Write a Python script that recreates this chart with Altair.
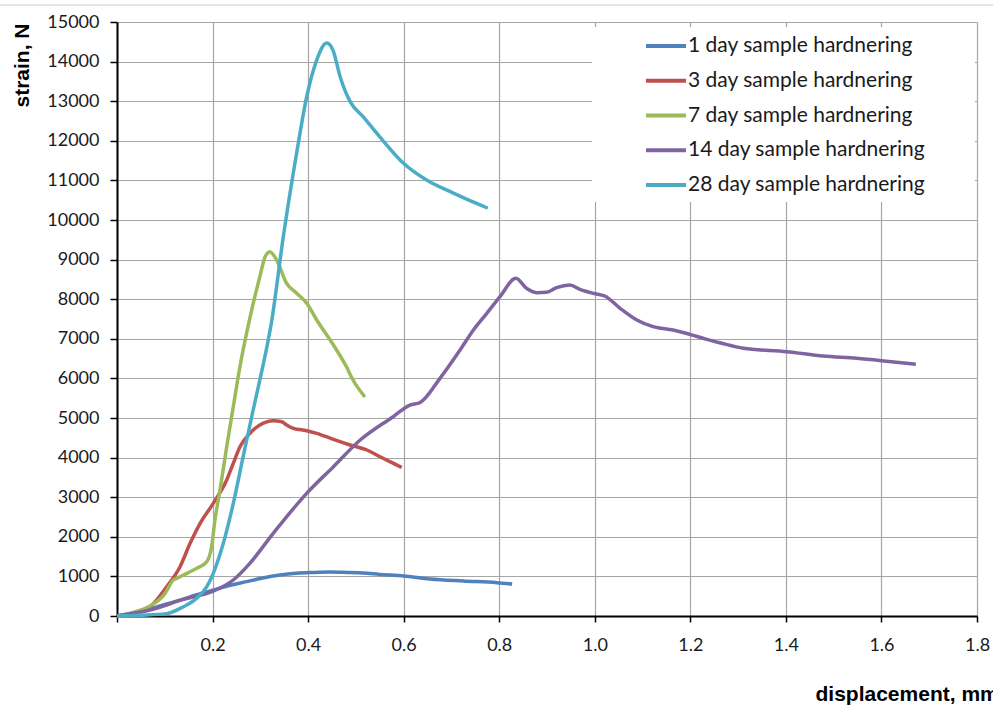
import altair as alt
import pandas as pd

series_names = ["1 day sample hardnering", "3 day sample hardnering", "7 day sample hardnering",
                "14 day sample hardnering", "28 day sample hardnering"]
series_colors = ["#4F81BD", "#C0504D", "#9BBB59", "#8064A2", "#4BACC6"]

d1_x = [0, 0.03, 0.062, 0.1, 0.132, 0.165, 0.2, 0.235, 0.271, 0.305, 0.341, 0.375, 0.411, 0.445,
        0.481, 0.515, 0.55, 0.6, 0.655, 0.725, 0.795, 0.827]
d1_y = [0, 50, 150, 290, 400, 530, 650, 770, 867, 960, 1035, 1080, 1100, 1110,
        1100, 1085, 1050, 1010, 935, 884, 842, 808]

d3_x = [0, 0.03, 0.069, 0.104, 0.132, 0.153, 0.174, 0.2015, 0.2296, 0.2434, 0.2574, 0.278, 0.299,
        0.327, 0.345, 0.355, 0.369, 0.397, 0.418, 0.453, 0.488, 0.523, 0.5435, 0.571, 0.596]
d3_y = [0, 70, 235, 740, 1245, 1835, 2340, 2845, 3434, 3855, 4275, 4613, 4823,
        4932, 4907, 4823, 4739, 4680, 4613, 4461, 4318, 4192, 4066, 3897, 3754]

d7_x = [0, 0.03, 0.069, 0.1, 0.118, 0.125, 0.146, 0.167, 0.188, 0.198, 0.205, 0.2156, 0.2296,
        0.2434, 0.2574, 0.282, 0.299, 0.31, 0.32, 0.334, 0.355, 0.376, 0.397, 0.418, 0.45,
        0.48, 0.494, 0.519]
d7_y = [0, 80, 250, 560, 909, 950, 1077, 1204, 1372, 1750, 2424, 3182, 4275,
        5285, 6300, 7730, 8570, 9073, 9200, 8990, 8400, 8150, 7900, 7475, 6900,
        6300, 5960, 5530]

d14_x = [0, 0.069, 0.139, 0.2, 0.2434, 0.278, 0.327, 0.397, 0.453, 0.509, 0.578, 0.613, 0.634,
         0.676, 0.718, 0.746, 0.774, 0.8016, 0.835, 0.857, 0.878, 0.899, 0.92, 0.948, 0.969,
         0.997, 1.021, 1.053, 1.088, 1.122, 1.164, 1.199, 1.234, 1.262, 1.311, 1.402, 1.478,
         1.548, 1.6, 1.672]
d14_y = [0, 150, 420, 620, 909, 1330, 2088, 3098, 3771, 4444, 5033, 5328, 5387,
         6002, 6717, 7222, 7643, 8064, 8528, 8275, 8165, 8173, 8291, 8359, 8250,
         8148, 8081, 7770, 7475, 7306, 7222, 7113, 6987, 6900, 6760, 6675, 6566,
         6507, 6448, 6355]

d28_x = [0, 0.05, 0.104, 0.139, 0.167, 0.188, 0.2015, 0.2225, 0.2434, 0.264, 0.285, 0.299, 0.324,
         0.348, 0.376, 0.397, 0.418, 0.439, 0.452, 0.467, 0.488, 0.515, 0.55, 0.599, 0.648,
         0.704, 0.76, 0.776]
d28_y = [0, 20, 60, 235, 447, 740, 1078, 1835, 2845, 4023, 5202, 5960, 7470,
         9570, 11690, 13110, 14040, 14470, 14290, 13620, 12990, 12610, 12100, 11440, 11010,
         10680, 10380, 10300]

x_ticks = [0, 0.2, 0.4, 0.6, 0.8, 1.0, 1.2, 1.4, 1.6, 1.8]
y_ticks = list(range(0, 15001, 1000))

rows = []
for name, xs, ys in zip(series_names, [d1_x, d3_x, d7_x, d14_x, d28_x], [d1_y, d3_y, d7_y, d14_y, d28_y]):
    for xv, yv in zip(xs, ys):
        rows.append({"series": name, "x": xv, "y": yv})
df = pd.DataFrame(rows)

lines = alt.Chart(df).mark_line(strokeWidth=3.5, interpolate="monotone").encode(
    x=alt.X("x:Q", scale=alt.Scale(domain=[0, 1.8], nice=False, zero=False),
            title="displacement, mm",
            axis=alt.Axis(values=x_ticks, format=".1f",
                          labelExpr="datum.value == 0 ? '' : format(datum.value, '.1f')",
                          labelFont="Lato", labelFontSize=18, labelColor="#1a1a1a",
                          labelPadding=14, labelFlush=False, labelOverlap=False,
                          tickSize=6, tickColor="black", tickWidth=1.5,
                          domainColor="black", domainWidth=2,
                          gridColor="#a6a6a6", gridWidth=1.2,
                          titleFont="Liberation Sans", titleFontWeight="bold", titleFontSize=21,
                          titleColor="black", titleX=698, titleY=84, titleAlign="left",
                          titleBaseline="alphabetic")),
    y=alt.Y("y:Q", scale=alt.Scale(domain=[0, 15000], nice=False),
            title="strain, N",
            axis=alt.Axis(values=y_ticks, format="d",
                          labelFont="Lato", labelFontSize=18, labelColor="#1a1a1a",
                          labelPadding=11, labelFlush=False, labelOverlap=False,
                          tickSize=7, tickColor="black", tickWidth=1.5,
                          domainColor="black", domainWidth=2,
                          gridColor="#a6a6a6", gridWidth=1.2,
                          titleFont="Liberation Sans", titleFontWeight="bold", titleFontSize=21,
                          titleColor="black", titleAngle=270, titleX=-89, titleY=1,
                          titleAlign="right", titleBaseline="alphabetic")),
    color=alt.Color("series:N", scale=alt.Scale(domain=series_names, range=series_colors),
                    legend=alt.Legend(title=None, orient="none", legendX=527, legendY=2,
                                      symbolType="stroke", symbolSize=1600, symbolStrokeWidth=4,
                                      labelFont="Lato", labelFontSize=21, labelColor="#1a1a1a",
                                      labelLimit=500, labelOffset=0, rowPadding=2.75, padding=0)),
)

legend_bg = alt.Chart(alt.Data(values=[{}])).mark_rect(color="white").encode(
    x=alt.value(475), x2=alt.value(858), y=alt.value(5), y2=alt.value(180))

top_line = alt.Chart(alt.Data(values=[{}])).mark_rule(color="#dcdcdc", strokeWidth=1.5, clip=False).encode(
    x=alt.value(-117), x2=alt.value(876), y=alt.value(-17))

chart = alt.layer(legend_bg, top_line, lines).properties(
    width=860, height=594,
    autosize=alt.AutoSizeParams(type="none"),
    padding={"left": 117, "top": 22, "right": 16, "bottom": 92},
    background="white",
).configure_view(stroke=None)

chart.save("out.html", embed_options={"renderer": "svg", "actions": False})
